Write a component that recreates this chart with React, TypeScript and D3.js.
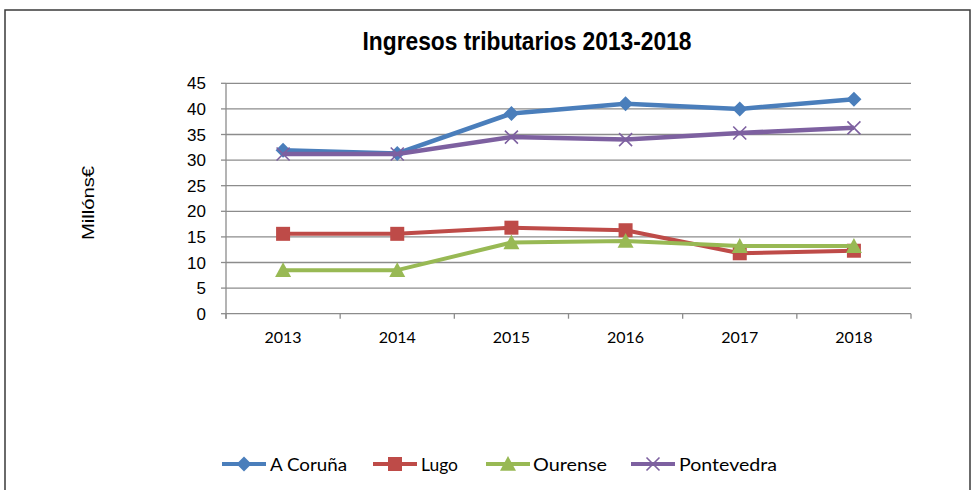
import React from "react";
import * as d3 from "d3";

const years = ["2013", "2014", "2015", "2016", "2017", "2018"];
const seriesNames = ["A Coruña", "Lugo", "Ourense", "Pontevedra"];
const coruna = [31.9, 31.3, 39.1, 41.0, 40.0, 41.9];
const lugo = [15.6, 15.6, 16.8, 16.3, 11.8, 12.3];
const ourense = [8.5, 8.5, 13.9, 14.2, 13.2, 13.2];
const pontevedra = [31.2, 31.2, 34.5, 34.0, 35.3, 36.3];
const yTicks = [0, 5, 10, 15, 20, 25, 30, 35, 40, 45];
const colors = ["#4A7EBB", "#BE4B48", "#98B954", "#7D60A0"];
const markers = ["diamond", "square", "triangle", "cross"];

const W = 976;
const H = 490;
const plot = { left: 226, right: 911, top: 83.3, bottom: 313.7 };

function Marker({ type, x, y, color }: { type: string; x: number; y: number; color: string }) {
  if (type === "diamond") {
    const s = 7.5;
    return <path d={`M${x},${y - s}L${x + s},${y}L${x},${y + s}L${x - s},${y}Z`} fill={color} />;
  }
  if (type === "square") {
    const s = 7;
    return <rect x={x - s} y={y - s} width={2 * s} height={2 * s} fill={color} />;
  }
  if (type === "triangle") {
    const s = 8;
    return <path d={`M${x},${y - s}L${x + s},${y + s * 0.85}L${x - s},${y + s * 0.85}Z`} fill={color} />;
  }
  const s = 6.5;
  return (
    <path
      d={`M${x - s},${y - s}L${x + s},${y + s}M${x - s},${y + s}L${x + s},${y - s}`}
      stroke={color}
      strokeWidth={1.6}
      fill="none"
    />
  );
}

export default function App() {
  const data = [coruna, lugo, ourense, pontevedra];
  const x = d3.scaleBand<string>().domain(years).range([plot.left, plot.right]);
  const y = d3.scaleLinear().domain([0, 45]).range([plot.bottom, plot.top]);
  const line = d3
    .line<number>()
    .x((_, i) => (x(years[i]) as number) + x.bandwidth() / 2)
    .y((d) => y(d));
  const widths = [4.5, 4, 4, 4.5];

  const legendItems = [
    { lx: 222, tx: 270, tl: 77 },
    { lx: 373, tx: 421, tl: 37 },
    { lx: 486, tx: 533, tl: 74 },
    { lx: 631, tx: 679, tl: 98 },
  ];

  const boundaries = d3.range(years.length + 1).map((i) => plot.left + i * x.step());

  return (
    <svg
      width={W}
      height={H}
      style={{ position: "absolute", left: 0, top: 0, background: "#fff" }}
    >
      <rect x={5} y={10} width={965} height={500} fill="#fff" stroke="#3a3a3a" strokeWidth={1.5} />
      <text
        x={527}
        y={50}
        textAnchor="middle"
        fontFamily="Liberation Sans, Arial, sans-serif"
        fontWeight="bold"
        fontSize={25}
        textLength={329}
        lengthAdjust="spacingAndGlyphs"
        fill="#000"
      >
        Ingresos tributarios 2013-2018
      </text>
      {yTicks.map((t) => (
        <g key={t}>
          <line x1={plot.left} x2={plot.right} y1={y(t)} y2={y(t)} stroke="#8c8c8c" strokeWidth={1.3} />
          <line x1={plot.left - 5} x2={plot.left} y1={y(t)} y2={y(t)} stroke="#8c8c8c" strokeWidth={1.3} />
          <text
            x={plot.left - 20}
            y={y(t) + 6}
            textAnchor="end"
            fontFamily="Liberation Sans, Arial, sans-serif"
            fontSize={17}
            fill="#000"
          >
            {t}
          </text>
        </g>
      ))}
      <line x1={plot.left} x2={plot.left} y1={plot.top} y2={plot.bottom + 5} stroke="#8c8c8c" strokeWidth={1.3} />
      {boundaries.map((bx, i) => (
        <line key={i} x1={bx} x2={bx} y1={plot.bottom} y2={plot.bottom + 5} stroke="#8c8c8c" strokeWidth={1.3} />
      ))}
      {years.map((yr) => (
        <text
          key={yr}
          x={(x(yr) as number) + x.bandwidth() / 2}
          y={343}
          textAnchor="middle"
          fontFamily="Lato, Carlito, Calibri, sans-serif"
          fontSize={16}
          fill="#000"
        >
          {yr}
        </text>
      ))}
      <text
        transform={`translate(94,203) rotate(-90)`}
        textAnchor="middle"
        fontFamily="Liberation Sans, Arial, sans-serif"
        fontSize={16}
        textLength={74}
        lengthAdjust="spacingAndGlyphs"
        fill="#000"
      >
        Millóns€
      </text>
      {data.map((vals, si) => (
        <g key={si}>
          <path d={line(vals) as string} fill="none" stroke={colors[si]} strokeWidth={widths[si]} strokeLinejoin="round" />
          {vals.map((v, i) => (
            <Marker
              key={i}
              type={markers[si]}
              x={(x(years[i]) as number) + x.bandwidth() / 2}
              y={y(v)}
              color={colors[si]}
            />
          ))}
        </g>
      ))}
      {legendItems.map((it, si) => (
        <g key={si}>
          <line x1={it.lx} x2={it.lx + 44} y1={464} y2={464} stroke={colors[si]} strokeWidth={4} />
          <Marker type={markers[si]} x={it.lx + 22} y={464} color={colors[si]} />
          <text
            x={it.tx}
            y={471}
            fontFamily="Lato, Carlito, Calibri, sans-serif"
            fontSize={18}
            textLength={it.tl}
            lengthAdjust="spacingAndGlyphs"
            fill="#000"
          >
            {seriesNames[si]}
          </text>
        </g>
      ))}
    </svg>
  );
}
